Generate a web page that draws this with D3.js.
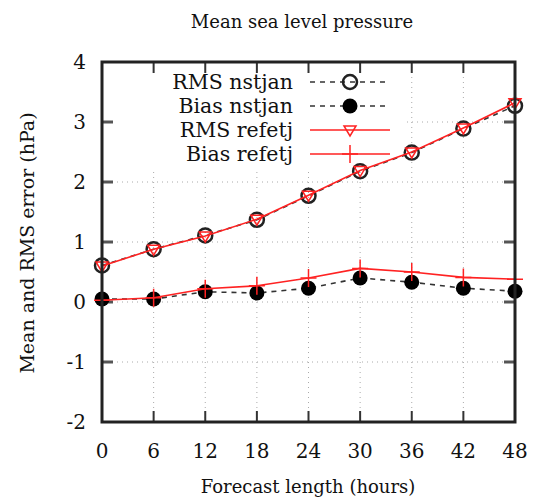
<!DOCTYPE html>
<html lang="en">
<head>
<meta charset="UTF-8" />
<title>Mean sea level pressure</title>
<script src="https://d3js.org/d3.v7.min.js"></script>
<style>
  body { margin: 0; background: #fff; }
  text { font-family: "DejaVu Serif", "Liberation Serif", serif; fill: #111; }
</style>
</head>
<body>
<svg id="chart" width="534" height="498"></svg>
<script>
// forecast hours
const hours = [0, 6, 12, 18, 24, 30, 36, 42, 48];
const rmsNstjan = [0.61, 0.88, 1.11, 1.37, 1.77, 2.18, 2.49, 2.89, 3.27];
const biasNstjan = [0.05, 0.05, 0.17, 0.15, 0.23, 0.40, 0.33, 0.23, 0.18];
const rmsRefetj = [0.60, 0.88, 1.10, 1.38, 1.78, 2.19, 2.50, 2.90, 3.32];
const biasRefetj = [0.03, 0.07, 0.22, 0.27, 0.40, 0.56, 0.50, 0.41, 0.38];
const yTicks = [-2, -1, 0, 1, 2, 3, 4];

const svg = d3.select("#chart");
const margin = { top: 62, right: 19, bottom: 76, left: 102 };
const width = 534 - margin.left - margin.right;
const height = 498 - margin.top - margin.bottom;
const g = svg.append("g").attr("transform", `translate(${margin.left},${margin.top})`);

const x = d3.scaleLinear().domain([0, 48]).range([0, width]);
const y = d3.scaleLinear().domain([-2, 4]).range([height, 0]);

// grid
g.append("g").selectAll("line").data(hours.slice(1, -1)).enter().append("line")
  .attr("x1", d => x(d)).attr("x2", d => x(d)).attr("y1", 0).attr("y2", height)
  .attr("stroke", "#aaa").attr("stroke-width", 1).attr("stroke-dasharray", "1,4");
g.append("g").selectAll("line").data(yTicks.slice(1, -1)).enter().append("line")
  .attr("x1", 0).attr("x2", width).attr("y1", d => y(d)).attr("y2", d => y(d))
  .attr("stroke", "#aaa").attr("stroke-width", 1).attr("stroke-dasharray", "1,4");

// key area blanks the grid
g.append("rect").attr("x", 2).attr("y", 2).attr("width", 300).attr("height", 104).attr("fill", "#fff");

// ticks on all four sides (inward)
const tl = 11;
g.append("g").selectAll("line").data(hours.slice(1, -1)).enter().append("line")
  .attr("x1", d => x(d)).attr("x2", d => x(d)).attr("y1", height).attr("y2", height - tl)
  .attr("stroke", "#333").attr("stroke-width", 2);
g.append("g").selectAll("line").data(hours.slice(1, -1)).enter().append("line")
  .attr("x1", d => x(d)).attr("x2", d => x(d)).attr("y1", 0).attr("y2", tl)
  .attr("stroke", "#333").attr("stroke-width", 2);
g.append("g").selectAll("line").data(yTicks.slice(1, -1)).enter().append("line")
  .attr("x1", 0).attr("x2", tl).attr("y1", d => y(d)).attr("y2", d => y(d))
  .attr("stroke", "#555").attr("stroke-width", 3);
g.append("g").selectAll("line").data(yTicks.slice(1, -1)).enter().append("line")
  .attr("x1", width).attr("x2", width - tl).attr("y1", d => y(d)).attr("y2", d => y(d))
  .attr("stroke", "#555").attr("stroke-width", 3);

// tick labels
g.append("g").selectAll("text").data(yTicks).enter().append("text")
  .attr("x", -16).attr("y", d => y(d)).attr("dy", "0.35em")
  .attr("text-anchor", "end").style("font-size", "20px").text(d => d);
g.append("g").selectAll("text").data(hours).enter().append("text")
  .attr("x", d => x(d)).attr("y", height + 36)
  .attr("text-anchor", "middle").style("font-size", "20px").text(d => d);

// series
const line = d3.line().x((d, i) => x(hours[i])).y(d => y(d));
const series = [
  { name: "RMS nstjan", data: rmsNstjan, color: "#333", dash: "5,5", marker: "open" },
  { name: "Bias nstjan", data: biasNstjan, color: "#333", dash: "5,5", marker: "filled" },
  { name: "RMS refetj", data: rmsRefetj, color: "#f22", dash: null, marker: "tri" },
  { name: "Bias refetj", data: biasRefetj, color: "#f22", dash: null, marker: "plus" }
];

function drawMarker(sel, s, cx, cy) {
  if (s.marker === "open") {
    sel.append("circle").attr("cx", cx).attr("cy", cy).attr("r", 7)
      .attr("fill", "none").attr("stroke", "#222").attr("stroke-width", 2.5);
  } else if (s.marker === "filled") {
    sel.append("circle").attr("cx", cx).attr("cy", cy).attr("r", 7.5).attr("fill", "#000");
  } else if (s.marker === "tri") {
    sel.append("path").attr("d", `M${cx - 6},${cy - 4}L${cx + 6},${cy - 4}L${cx},${cy + 6}Z`)
      .attr("fill", "none").attr("stroke", s.color).attr("stroke-width", 1.5);
  } else {
    sel.append("path").attr("d", `M${cx - 8},${cy}L${cx + 8},${cy}M${cx},${cy - 9}L${cx},${cy + 9}`)
      .attr("stroke", s.color).attr("stroke-width", 1.5);
  }
}

series.forEach(s => {
  g.append("path").datum(s.data).attr("fill", "none")
    .attr("stroke", s.color).attr("stroke-width", 1.6)
    .attr("stroke-dasharray", s.dash).attr("d", line);
  const mg = g.append("g");
  s.data.forEach((v, i) => drawMarker(mg, s, x(hours[i]), y(v)));
});

// key
series.forEach((s, i) => {
  const ky = 20 + i * 24;
  g.append("text").attr("x", 191).attr("y", ky).attr("dy", "0.35em")
    .attr("text-anchor", "end").style("font-size", "20.5px").text(s.name);
  g.append("line").attr("x1", 208).attr("x2", 288).attr("y1", ky).attr("y2", ky)
    .attr("stroke", s.color).attr("stroke-width", 1.6).attr("stroke-dasharray", s.dash);
  drawMarker(g, s, 248, ky);
});

// border
g.append("rect").attr("width", width).attr("height", height)
  .attr("fill", "none").attr("stroke", "#222").attr("stroke-width", 3);

// titles
svg.append("text").attr("x", 302).attr("y", 28).attr("text-anchor", "middle")
  .style("font-size", "18px").text("Mean sea level pressure");
svg.append("text").attr("x", 308).attr("y", 493).attr("text-anchor", "middle")
  .style("font-size", "18px").text("Forecast length (hours)");
svg.append("text").attr("transform", "translate(34,243) rotate(-90)")
  .attr("text-anchor", "middle").style("font-size", "19px").text("Mean and RMS error (hPa)");
</script>
</body>
</html>
